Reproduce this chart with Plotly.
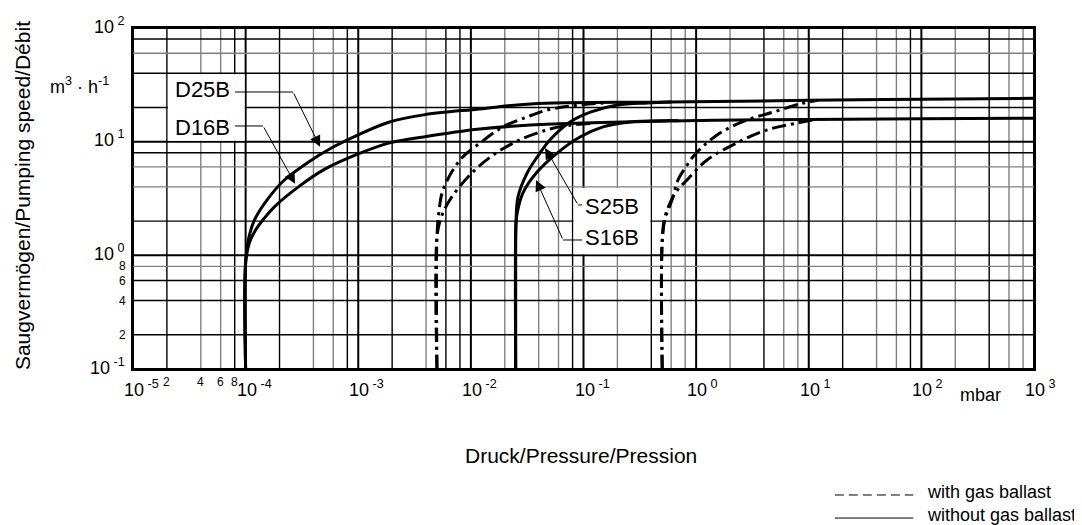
import numpy as np
import plotly.graph_objects as go

# ---------------- data ----------------
D25B_P = [1e-4, 1e-4, 1.056e-4, 1.2e-4, 1.6e-4, 2.21e-4, 3.6e-4, 5.77e-4, 1e-3, 1.9e-3, 3.8e-3, 1.2e-2, 3.4e-2, 0.59, 10, 100, 1000]
D25B_S = [0.1, 0.86, 1.36, 2.05, 3.2, 4.6, 6.6, 8.8, 11.5, 14.9, 17.2, 19.4, 21.5, 22.3, 23.1, 23.6, 24.1]

D16B_P = [1e-4, 1e-4, 1.08e-4, 1.212e-4, 1.47e-4, 1.8e-4, 2.94e-4, 5.0e-4, 1e-3, 1.9e-3, 3.8e-3, 1.2e-2, 3.4e-2, 0.59, 10, 100, 1000]
D16B_S = [0.1, 0.86, 1.29, 1.64, 2.13, 2.67, 4.0, 5.7, 7.8, 9.75, 11.0, 12.9, 14.0, 15.2, 15.7, 15.9, 16.1]

S25B_P = [2.5e-2, 2.5e-2, 2.52e-2, 2.62e-2, 3.16e-2, 3.87e-2, 5.05e-2, 7.6e-2, 0.115, 0.2, 0.37, 0.6]
S25B_S = [0.1, 1.5, 2.05, 3.27, 5.3, 7.3, 10.4, 14.9, 18.2, 21.0, 21.9, 22.3]

S16B_P = [2.5e-2, 2.5e-2, 2.55e-2, 2.9e-2, 3.87e-2, 5.8e-2, 9.3e-2, 0.149, 0.26, 0.51, 0.7]
S16B_S = [0.1, 1.5, 2.2, 3.54, 5.4, 7.9, 11.0, 13.5, 14.9, 15.3, 15.3]

D25B_GB_P = [5e-3, 5e-3, 5.2e-3, 5.66e-3, 8.0e-3, 1.21e-2, 1.93e-2, 3.15e-2, 4.75e-2, 7.6e-2, 0.15]
D25B_GB_S = [0.1, 1.45, 2.4, 3.76, 6.9, 9.75, 13.5, 16.5, 19.0, 20.6, 21.9]

D16B_GB_P = [5e-3, 5e-3, 5.4e-3, 6.5e-3, 9.8e-3, 1.57e-2, 2.73e-2, 4.75e-2, 6.6e-2, 0.12]
D16B_GB_S = [0.1, 1.45, 2.1, 3.07, 5.1, 7.6, 10.4, 12.7, 13.7, 14.5]

S25B_GB_P = [0.5, 0.5, 0.53, 0.61, 0.69, 0.83, 1.02, 1.63, 2.84, 4.83, 8.4, 12]
S25B_GB_S = [0.1, 1.3, 2.1, 3.07, 4.6, 6.2, 8.1, 11.9, 15.5, 18.2, 21.5, 23.1]

S16B_GB_P = [0.5, 0.5, 0.53, 0.65, 0.83, 1.25, 2.3, 4.27, 7.9, 11]
S16B_GB_S = [0.1, 1.37, 2.2, 3.5, 4.6, 6.9, 9.75, 12.7, 14.6, 15.6]

X_DECADES = [-5, -4, -3, -2, -1, 0, 1, 2, 3]
Y_DECADES = [-1, 0, 1, 2]
MINOR_MULT = [2, 4, 6, 8]
# colour of each minor grid line (2,4,6,8) per decade: k = black, g = grey
X_MINOR_COLORS = {-5: "kggk", -4: "kggk", -3: "kgkk", -2: "gggk",
                  -1: "gkgg", 0: "gkgg", 1: "kggk", 2: "gkgg"}
Y_MINOR_COLORS = {-1: "kkkg", 0: "kggk", 1: "kkgk"}

X_MINOR_LABELS = ["2", "4", "6", "8"]      # between 1e-5 and 1e-4
Y_MINOR_LABELS = ["2", "4", "6", "8"]      # between 1e-1 and 1e0

X_TITLE = "Druck/Pressure/Pression"
Y_TITLE = "Saugvermögen/Pumping speed/Débit"
Y_UNIT = "m<sup>3</sup> · h<sup>-1</sup>"
X_UNIT = "mbar"
LEGEND_TEXT = ["with gas ballast", "without gas ballast"]

# ---------------- styles ----------------
FONT = "Liberation Sans, Arial, Helvetica, sans-serif"
BLACK = "#000000"
GREY = "#808080"
DASHDOT = "14px,5px,3px,5px"
CURVE_W = 3

fig = go.Figure()

def add_curve(p, s, dash=None):
    fig.add_trace(go.Scatter(
        x=p, y=s, mode="lines",
        line=dict(color=BLACK, width=CURVE_W, dash=dash, shape="spline", smoothing=1.0),
        showlegend=False, hoverinfo="skip"))

add_curve(D25B_P, D25B_S)
add_curve(D16B_P, D16B_S)
add_curve(S25B_P, S25B_S)
add_curve(S16B_P, S16B_S)
add_curve(D25B_GB_P, D25B_GB_S, DASHDOT)
add_curve(D16B_GB_P, D16B_GB_S, DASHDOT)
add_curve(S25B_GB_P, S25B_GB_S, DASHDOT)
add_curve(S16B_GB_P, S16B_GB_S, DASHDOT)

shapes = []
col = {"k": BLACK, "g": GREY}
# vertical grid lines
for d in X_DECADES[:-1]:
    for m, c in zip(MINOR_MULT, X_MINOR_COLORS[d]):
        v = m * 10.0 ** d
        shapes.append(dict(type="line", xref="x", yref="paper", x0=v, x1=v, y0=0, y1=1,
                           line=dict(color=col[c], width=1.4), layer="below"))
for d in X_DECADES:
    v = 10.0 ** d
    shapes.append(dict(type="line", xref="x", yref="paper", x0=v, x1=v, y0=0, y1=1,
                       line=dict(color=BLACK, width=2), layer="below"))
# horizontal grid lines
for d in Y_DECADES[:-1]:
    for m, c in zip(MINOR_MULT, Y_MINOR_COLORS[d]):
        v = m * 10.0 ** d
        shapes.append(dict(type="line", xref="paper", yref="y", x0=0, x1=1, y0=v, y1=v,
                           line=dict(color=col[c], width=1.4), layer="below"))
for d in Y_DECADES:
    v = 10.0 ** d
    shapes.append(dict(type="line", xref="paper", yref="y", x0=0, x1=1, y0=v, y1=v,
                       line=dict(color=BLACK, width=2), layer="below"))
# white label boxes
INS = 1.02
for (x0, x1, y0, y1) in [(2e-5, 1e-4, 10, 40), (8e-2, 4e-1, 1, 4)]:
    shapes.append(dict(type="rect", xref="x", yref="y", x0=x0 * INS, x1=x1 / INS,
                       y0=y0 * INS, y1=y1 / INS, fillcolor="white",
                       line=dict(width=0), layer="below"))

# legend line samples (paper coords)
shapes.append(dict(type="line", xref="paper", yref="paper", x0=0.779, x1=0.866, y0=-0.3695, y1=-0.3695,
                   line=dict(color=BLACK, width=1, dash="9px,5px")))
shapes.append(dict(type="line", xref="paper", yref="paper", x0=0.779, x1=0.866, y0=-0.437, y1=-0.437,
                   line=dict(color=BLACK, width=1)))

annotations = []
L = np.log10

# curve labels
for txt, xl, yl in [("D25B", -4.387, 1.455), ("D16B", -4.387, 1.129),
                    ("S25B", -0.746, 0.434), ("S16B", -0.746, 0.153)]:
    annotations.append(dict(text=txt, x=xl, y=yl, xref="x", yref="y", showarrow=False,
                            font=dict(family=FONT, size=22, color=BLACK)))

# leader lines (log10 coordinates): start, knee, tip
LEADERS = [((-4.094, 1.437), (-3.579, 1.437), (-3.339, 0.955)),
           ((-4.094, 1.138), (-3.845, 1.138), (-3.561, 0.630)),
           ((-1.012, 0.443), (-1.048, 0.443), (-1.341, 0.945)),
           ((-1.012, 0.135), (-1.181, 0.135), (-1.421, 0.663))]
for a, b, t in LEADERS:
    fig.add_trace(go.Scatter(x=[10 ** a[0], 10 ** b[0]], y=[10 ** a[1], 10 ** b[1]], mode="lines",
                             line=dict(color=BLACK, width=1), showlegend=False, hoverinfo="skip"))
    annotations.append(dict(text="", x=t[0], y=t[1], ax=b[0], ay=b[1], xref="x", yref="y",
                            axref="x", ayref="y", showarrow=True, arrowhead=2, arrowsize=2.2,
                            arrowwidth=1, arrowcolor=BLACK, standoff=0))

# x tick labels
for d in X_DECADES:
    annotations.append(dict(text="10<sup> %d</sup>" % d, x=d, y=0, xref="x", yref="paper",
                            xanchor="left", yanchor="top", xshift=-11, yshift=-6, showarrow=False,
                            font=dict(family=FONT, size=18, color=BLACK)))
for m, t in zip(MINOR_MULT, X_MINOR_LABELS):
    annotations.append(dict(text=t, x=L(m * 1e-5), y=0, xref="x", yref="paper",
                            xanchor="center", yanchor="top", yshift=-4, showarrow=False,
                            font=dict(family=FONT, size=12, color=BLACK)))
# y tick labels
for d in Y_DECADES:
    annotations.append(dict(text="10<sup> %d</sup>" % d, x=0, y=d, xref="paper", yref="y",
                            xanchor="right", yanchor="middle", xshift=-6, yshift=3, showarrow=False,
                            font=dict(family=FONT, size=18, color=BLACK)))
for m, t in zip(MINOR_MULT, Y_MINOR_LABELS):
    annotations.append(dict(text=t, x=0, y=L(m * 0.1), xref="paper", yref="y",
                            xanchor="right", yanchor="middle", xshift=-5, showarrow=False,
                            font=dict(family=FONT, size=12, color=BLACK)))

annotations.append(dict(text=Y_UNIT, x=0, y=0.83, xref="paper", yref="paper", xanchor="right",
                        yanchor="middle", xshift=-22, showarrow=False,
                        font=dict(family=FONT, size=18, color=BLACK)))
annotations.append(dict(text=X_UNIT, x=0.941, y=-0.076, xref="paper", yref="paper",
                        xanchor="center", yanchor="middle", showarrow=False,
                        font=dict(family=FONT, size=18, color=BLACK)))
annotations.append(dict(text=Y_TITLE, x=-0.1232, y=0.51, xref="paper", yref="paper",
                        textangle=-90, xanchor="center", yanchor="middle", showarrow=False,
                        font=dict(family=FONT, size=21, color=BLACK)))
annotations.append(dict(text=X_TITLE, x=0.497, y=-0.255, xref="paper", yref="paper",
                        xanchor="center", yanchor="middle", showarrow=False,
                        font=dict(family=FONT, size=21, color=BLACK)))
for t, yy in zip(LEGEND_TEXT, [-0.3607, -0.427]):
    annotations.append(dict(text=t, x=0.879, y=yy, xref="paper", yref="paper",
                            xanchor="left", yanchor="middle", showarrow=False,
                            font=dict(family=FONT, size=18, color=BLACK)))

axis_common = dict(type="log", showgrid=False, zeroline=False, showticklabels=False, ticks="",
                   showline=True, linecolor=BLACK, linewidth=2, mirror=True)
# the page body adds an 8 px offset, so the figure is 8 px smaller and margins shifted
fig.update_layout(
    width=1074, height=517,
    margin=dict(l=125, r=48, t=20, b=156),
    paper_bgcolor="white", plot_bgcolor="white",
    xaxis=dict(range=[-5, 3], **axis_common),
    yaxis=dict(range=[-1, 2], **axis_common),
    shapes=shapes, annotations=annotations, showlegend=False,
)

fig.write_html("out.html")
